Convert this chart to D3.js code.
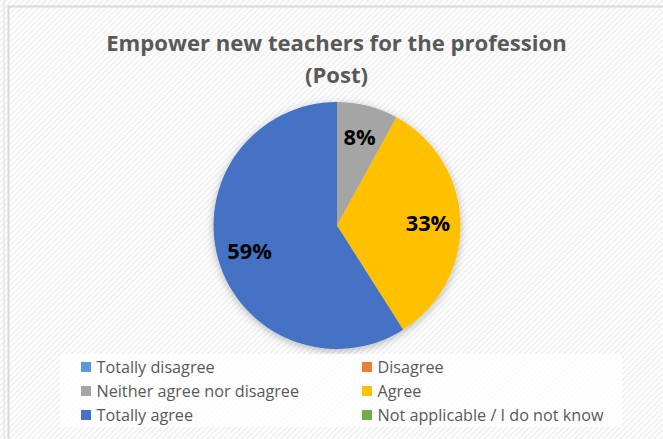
<!DOCTYPE html>
<html><head><meta charset="utf-8">
<script src="https://cdn.jsdelivr.net/npm/d3@7"></script>
<style>html,body{margin:0;padding:0;background:#fff;overflow:hidden}</style>
</head><body>
<svg id="chart" width="663" height="439"></svg>
<script>
const categories = ["Totally disagree","Disagree","Neither agree nor disagree","Agree","Totally agree","Not applicable / I do not know"];
const values = [0, 0, 8, 33, 59, 0];
const colors = ["#5B9BD5","#ED7D31","#A5A5A5","#FFC000","#4472C4","#70AD47"];
const titleLines = ["Empower new teachers for the profession","(Post)"];

const W = 663, H = 439;
const svg = d3.select("#chart");
const defs = svg.append("defs");
const pat = defs.append("pattern").attr("id","stripes").attr("patternUnits","userSpaceOnUse")
  .attr("width",4).attr("height",4).attr("patternTransform","rotate(45)");
pat.append("rect").attr("width",4).attr("height",4).attr("fill","#ffffff");
pat.append("rect").attr("width",1.6).attr("height",4).attr("fill","#efefef");
const f = defs.append("filter").attr("id","shadow").attr("x","-20%").attr("y","-20%").attr("width","140%").attr("height","140%");
f.append("feDropShadow").attr("dx",0).attr("dy",2).attr("stdDeviation",4).attr("flood-color","#000").attr("flood-opacity",0.28);

svg.append("rect").attr("width",W).attr("height",H).attr("fill","url(#stripes)");
// chart frame
svg.append("rect").attr("x",8.5).attr("y",6.5).attr("width",W+20).attr("height",H+20)
  .attr("fill","none").attr("stroke","#d9d9d9").attr("stroke-width",2);
svg.append("line").attr("x1",4).attr("x2",4).attr("y1",0).attr("y2",H).attr("stroke","#e6e6e6").attr("stroke-width",1.5);

// title
const title = svg.append("text").attr("text-anchor","middle")
  .attr("font-family","'Open Sans', sans-serif").attr("font-weight","bold")
  .attr("font-size",22.1).attr("fill","#595959");
titleLines.forEach((t,i)=>{
  title.append("tspan").attr("x",336.5).attr("y",51 + i*32).text(t);
});

// pie
const cx = 337, cy = 225.5, R = 123.5;
const pie = d3.pie().sort(null).value(d=>d.v);
const data = categories.map((c,i)=>({c, v:values[i], col:colors[i]}));
const arcs = pie(data);
const arc = d3.arc().innerRadius(0).outerRadius(R);
const labelArc = d3.arc().innerRadius(91).outerRadius(91);
const g = svg.append("g").attr("transform",`translate(${cx},${cy})`);
g.append("g").attr("filter","url(#shadow)").selectAll("path").data(arcs.filter(a=>a.data.v>0)).join("path")
  .attr("d",arc).attr("fill",d=>d.data.col);
g.selectAll("text.lbl").data(arcs.filter(a=>a.data.v>0)).join("text")
  .attr("class","lbl")
  .attr("transform",d=>{const p=labelArc.centroid(d);return `translate(${p[0]},${p[1]})`;})
  .attr("text-anchor","middle").attr("dy","0.36em")
  .attr("font-family","'Open Sans', sans-serif").attr("font-weight","bold")
  .attr("font-size",21.8).attr("fill","#000")
  .text(d=>d.data.v+"%");

// legend
svg.append("rect").attr("x",60).attr("y",354).attr("width",562).attr("height",73).attr("fill","#fff").attr("opacity",0.75);
const colX = [81, 362], rowY = [367, 391, 415];
const lg = svg.append("g");
data.forEach((d,i)=>{
  const x = colX[i%2], y = rowY[Math.floor(i/2)];
  lg.append("rect").attr("x",x).attr("y",y-5).attr("width",10).attr("height",10).attr("fill",d.col);
  lg.append("text").attr("x",x+15.5).attr("y",y).attr("dy","0.35em")
    .attr("font-family","'Open Sans', sans-serif").attr("font-size",16.2).attr("fill","#595959").text(d.c);
});
</script>
</body></html>
